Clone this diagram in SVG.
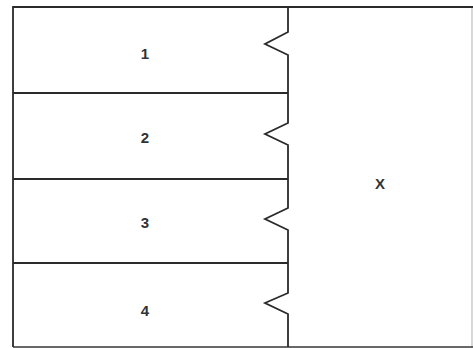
<svg xmlns="http://www.w3.org/2000/svg" width="473" height="348" viewBox="0 0 473 348">
<style>
.ln{fill:none;stroke:#2a2a2a;stroke-width:1.8;stroke-linejoin:miter}
.lb{font-family:"Liberation Sans",Arial,sans-serif;font-size:15px;font-weight:bold;fill:#333;text-anchor:middle;dominant-baseline:central}
</style>
<rect width="473" height="348" fill="#fff"/>
<g id="frame">
<path class="ln" d="M13,347 V7 H473"/>
<path class="ln" d="M13,347 H473" stroke-opacity="0.7"/>
<path class="ln" d="M472,7 V347" stroke-opacity="0.2"/>
</g>
<g id="connectors">
<path class="ln" d="M288,7 V32 L265,44 L288,55 V123 L265,134 L288,145 V208 L265,219 L288,230 V293 L265,303 L288,314 V347"/>
</g>
<g id="node1"><path class="ln" d="M13,93 H288"/><text class="lb" x="145" y="53">1</text></g>
<g id="node2"><path class="ln" d="M13,179 H288"/><text class="lb" x="145" y="137">2</text></g>
<g id="node3"><path class="ln" d="M13,263 H288"/><text class="lb" x="145" y="222">3</text></g>
<g id="node4"><text class="lb" x="145" y="310">4</text></g>
<g id="nodeX"><text class="lb" x="380" y="183">X</text></g>
</svg>
